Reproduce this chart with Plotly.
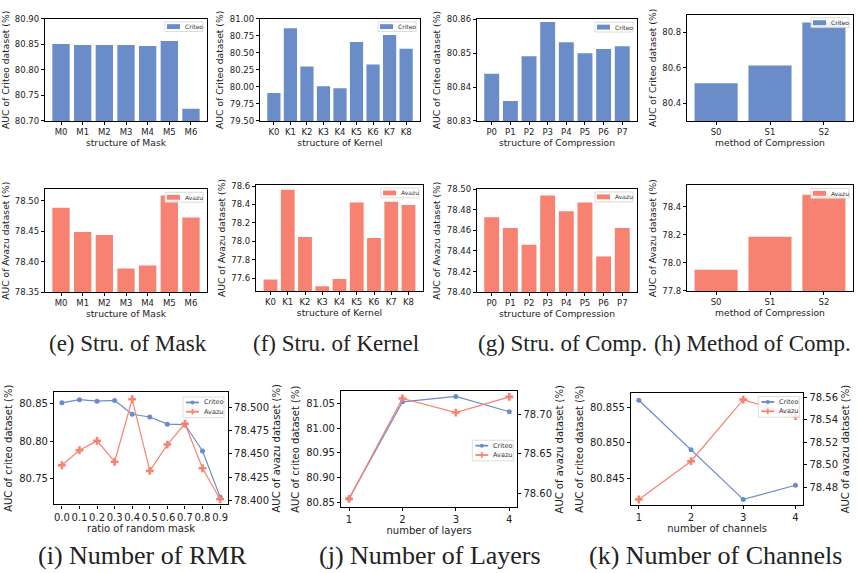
import plotly.graph_objects as go

W, H = 857, 573
BLUE = "#6A8CC8"
SALMON = "#F88272"

# ---------------- data ----------------
mask_cats = ["M0", "M1", "M2", "M3", "M4", "M5", "M6"]
mask_criteo = [80.8506, 80.8487, 80.8487, 80.8487, 80.8468, 80.8564, 80.7237]
mask_avazu = [78.489, 78.449, 78.444, 78.389, 78.394, 78.509, 78.473]

kernel_cats = ["K0", "K1", "K2", "K3", "K4", "K5", "K6", "K7", "K8"]
kernel_criteo = [79.909, 80.861, 80.298, 80.010, 79.981, 80.659, 80.327, 80.760, 80.558]
kernel_avazu = [77.585, 78.56, 78.045, 77.51, 77.59, 78.42, 78.035, 78.43, 78.395]

comp_cats = ["P0", "P1", "P2", "P3", "P4", "P5", "P6", "P7"]
comp_criteo = [80.8439, 80.8359, 80.8491, 80.8592, 80.8532, 80.8500, 80.8512, 80.8520]
comp_avazu = [78.4727, 78.4622, 78.4460, 78.4937, 78.4784, 78.4870, 78.4346, 78.4622]

method_cats = ["S0", "S1", "S2"]
method_criteo = [80.513, 80.613, 80.856]
method_avazu = [77.95, 78.186, 78.484]

rmr_ratio = [0.0, 0.1, 0.2, 0.3, 0.4, 0.5, 0.6, 0.7, 0.8, 0.9]
rmr_criteo = [80.8508, 80.855, 80.853, 80.854, 80.8356, 80.832, 80.8225, 80.822, 80.787, 80.726]
rmr_avazu = [78.4377, 78.4539, 78.464, 78.4415, 78.5088, 78.4317, 78.460, 78.4824, 78.4345, 78.401]

layers = [1, 2, 3, 4]
layers_criteo = [80.858, 81.053, 81.064, 81.033]
layers_avazu = [78.5925, 78.721, 78.703, 78.723]

channels = [1, 2, 3, 4]
channels_criteo = [80.856, 80.849, 80.842, 80.844]
channels_avazu = [78.469, 78.503, 78.5577, 78.543]

captions_row2 = ["(e) Stru. of Mask", "(f) Stru. of Kernel", "(g) Stru. of Comp.", "(h) Method of Comp."]
captions_row3 = ["(i) Number of RMR", "(j) Number of Layers", "(k) Number of Channels"]

# ---------------- helpers ----------------
def px(x):
    return x / W

def py(y):
    return 1 - y / H

def dx(a, b):
    return [px(a), px(b)]

def dy(top, bottom):
    return [py(bottom), py(top)]

AX_FONT = dict(family="DejaVu Sans", size=8.5, color="#222")
TITLE_FONT = dict(family="DejaVu Sans", size=9.2, color="#222")
AX_FONT3 = dict(family="DejaVu Sans", size=10, color="#222")

def base_axis(font, tfont=None):
    return dict(showline=True, linecolor="black", linewidth=1.2, mirror=True,
                ticks="outside", ticklen=3, tickwidth=1, tickcolor="black",
                showgrid=False, zeroline=False, tickfont=font,
                title_font=tfont or font)

fig = go.Figure()
layout = dict(width=W, height=H, margin=dict(l=0, r=0, t=0, b=0),
              paper_bgcolor="white", plot_bgcolor="white", showlegend=False,
              bargap=0.2)
shapes = []
annotations = []

def legend_frame(right, top, w, h):
    shapes.append(dict(type="rect", xref="paper", yref="paper",
                       x0=px(right - w), x1=px(right), y0=py(top + h), y1=py(top),
                       line=dict(color="#d4d4d4", width=0.8), fillcolor="rgba(255,255,255,0.85)",
                       layer="above"))

def legend_text(x, y, text, size=6):
    annotations.append(dict(text=text, x=px(x), y=py(y), xref="paper", yref="paper",
                            showarrow=False, xanchor="left", yanchor="middle",
                            font=dict(family="DejaVu Sans", size=size, color="#333")))

def bar_range(n):
    m = 0.05 * (n - 0.2)
    return [-0.4 - m, n - 1 + 0.4 + m]

bar_panels = [
    (mask_cats, mask_criteo, BLUE, "Criteo", (45, 207), (14, 118), [80.70, 80.90], 0.05, ".2f", "structure of Mask", "AUC of Criteo dataset (%)"),
    (kernel_cats, kernel_criteo, BLUE, "Criteo", (260, 420), (14, 118), [79.50, 81.00], 0.25, ".2f", "structure of Kernel", "AUC of Criteo dataset (%)"),
    (comp_cats, comp_criteo, BLUE, "Criteo", (477, 637), (14.5, 118), [80.83, 80.86], 0.01, ".2f", "structure of Compression", "AUC of Criteo dataset (%)"),
    (method_cats, method_criteo, BLUE, "Criteo", (687, 853), (10, 118), [80.30, 80.90], 0.2, ".1f", "method of Compression", "AUC of Criteo dataset (%)"),
    (mask_cats, mask_avazu, SALMON, "Avazu", (45, 207), (187.7, 292.3), [78.35, 78.519], 0.05, ".2f", "structure of Mask", "AUC of Avazu dataset (%)"),
    (kernel_cats, kernel_avazu, SALMON, "Avazu", (256, 423), (183.3, 291), [77.46, 78.61], 0.2, ".1f", "structure of Kernel", "AUC of Avazu dataset (%)"),
    (comp_cats, comp_avazu, SALMON, "Avazu", (477, 637), (187.3, 292.3), [78.40, 78.50], 0.02, ".2f", "structure of Compression", "AUC of Avazu dataset (%)"),
    (method_cats, method_avazu, SALMON, "Avazu", (687, 853), (183.7, 291), [77.80, 78.55], 0.2, ".1f", "method of Compression", "AUC of Avazu dataset (%)"),
]

for i, (cats, vals, col, name, xd, yd, yr, dt, fmt, xt, yt) in enumerate(bar_panels, start=1):
    fig.add_trace(go.Bar(x=cats, y=vals, marker=dict(color=col, line=dict(width=0)),
                         name=name, xaxis=f"x{i}", yaxis=f"y{i}", width=0.8))
    xa = base_axis(AX_FONT, TITLE_FONT)
    xa.update(domain=dx(*xd), anchor=f"y{i}", type="category", range=bar_range(len(cats)),
              title=dict(text=xt, standoff=2))
    ya = base_axis(AX_FONT, TITLE_FONT)
    ya.update(domain=dy(*yd), anchor=f"x{i}", range=yr, tick0=0,
              dtick=dt, tickformat=fmt, title=dict(text=yt, standoff=4))
    layout[f"xaxis{i}"] = xa
    layout[f"yaxis{i}"] = ya
    # small matplotlib-like legend
    right, top = xd[1] - 4, yd[0] + 3
    legend_frame(right, top, 38, 10)
    lx = right - 36
    shapes.append(dict(type="rect", xref="paper", yref="paper",
                       x0=px(lx), x1=px(lx + 13), y0=py(top + 7.5), y1=py(top + 2.5),
                       line=dict(width=0), fillcolor=col, layer="above"))
    legend_text(lx + 16, top + 5, name)

# ---------------- line panels ----------------
line_panels = [
    (rmr_ratio, rmr_criteo, rmr_avazu, (54, 228), (394, 508.3), [80.716, 80.865], 0.05, ".2f",
     [78.3955, 78.5165], 0.025, ".3f", "ratio of random mask", 0.1, ".1f", [-0.045, 0.945], 399),
    (layers, layers_criteo, layers_avazu, (341, 517.3), (393.3, 511), [80.841, 81.074], 0.05, ".2f",
     [78.582, 78.730], 0.05, ".2f", "number of layers", 1, "d", [0.85, 4.15], 443),
    (channels, channels_criteo, channels_avazu, (631, 803.3), (395, 509), [80.8412, 80.857], 0.005, ".3f",
     [78.464, 78.5635], 0.02, ".2f", "number of channels", 1, "d", [0.85, 4.15], 398.5),
]

for k, (xs, cv, av, xd, yd, lr, ldt, lfmt, rr, rdt, rfmt, xt, xdt, xfmt, xr, ltop) in enumerate(line_panels):
    i = 9 + k
    j = 12 + k
    fig.add_trace(go.Scatter(x=xs, y=cv, mode="lines+markers", name="Criteo",
                             line=dict(color=BLUE, width=1.2),
                             marker=dict(symbol="circle", size=5, color=BLUE),
                             xaxis=f"x{i}", yaxis=f"y{i}"))
    fig.add_trace(go.Scatter(x=xs, y=av, mode="lines+markers", name="Avazu",
                             line=dict(color=SALMON, width=1.2),
                             marker=dict(symbol="cross", size=6.5, color=SALMON),
                             xaxis=f"x{i}", yaxis=f"y{j}"))
    xa = base_axis(AX_FONT3)
    xa.update(domain=dx(*xd), anchor=f"y{i}", range=xr, dtick=xdt, tick0=0, tickformat=xfmt,
              tickangle=0, title=dict(text=xt, standoff=2))
    ya = base_axis(AX_FONT3)
    ya.update(domain=dy(*yd), anchor=f"x{i}", range=lr, dtick=ldt, tick0=0, tickformat=lfmt,
              title=dict(text="AUC of criteo dataset (%)", standoff=4))
    yb = base_axis(AX_FONT3)
    yb.update(anchor=f"x{i}", overlaying=f"y{i}", side="right", range=rr, dtick=rdt, tick0=0,
              tickformat=rfmt, mirror=False, title=dict(text="AUC of avazu dataset (%)", standoff=4))
    layout[f"xaxis{i}"] = xa
    layout[f"yaxis{i}"] = ya
    layout[f"yaxis{j}"] = yb
    # legend
    right = xd[1] - 4
    legend_frame(right, ltop, 41, 21)
    lx = right - 38
    for r, (nm, col, sym) in enumerate([("Criteo", BLUE, "o"), ("Avazu", SALMON, "+")]):
        yy = ltop + 5.5 + r * 9.5
        shapes.append(dict(type="line", xref="paper", yref="paper",
                           x0=px(lx), x1=px(lx + 13), y0=py(yy), y1=py(yy),
                           line=dict(color=col, width=1.8), layer="above"))
        cx = lx + 6.5
        if sym == "o":
            shapes.append(dict(type="circle", xref="paper", yref="paper",
                               x0=px(cx - 2), x1=px(cx + 2), y0=py(yy + 2), y1=py(yy - 2),
                               line=dict(width=0), fillcolor=col, layer="above"))
        else:
            shapes.append(dict(type="line", xref="paper", yref="paper",
                               x0=px(cx), x1=px(cx), y0=py(yy + 2.8), y1=py(yy - 2.8),
                               line=dict(color=col, width=1.8), layer="above"))
        legend_text(lx + 16, yy, nm, size=6.5)

# ---------------- captions ----------------
cap_x2 = [128, 336, 562, 752]
for t, cx in zip(captions_row2, cap_x2):
    annotations.append(dict(text=t, x=px(cx), y=py(345), xref="paper", yref="paper",
                            showarrow=False, xanchor="center", yanchor="middle",
                            font=dict(family="Liberation Serif", size=23, color="#222")))
cap_x3 = [142, 430, 715]
for t, cx in zip(captions_row3, cap_x3):
    annotations.append(dict(text=t, x=px(cx), y=py(560), xref="paper", yref="paper",
                            showarrow=False, xanchor="center", yanchor="middle",
                            font=dict(family="Liberation Serif", size=26, color="#222")))
layout["annotations"] = annotations
layout["shapes"] = shapes

fig.update_layout(**layout)
fig.write_html("out.html", config={"displayModeBar": False},
               post_script="document.body.style.margin='0px';document.body.style.overflow='hidden';")
